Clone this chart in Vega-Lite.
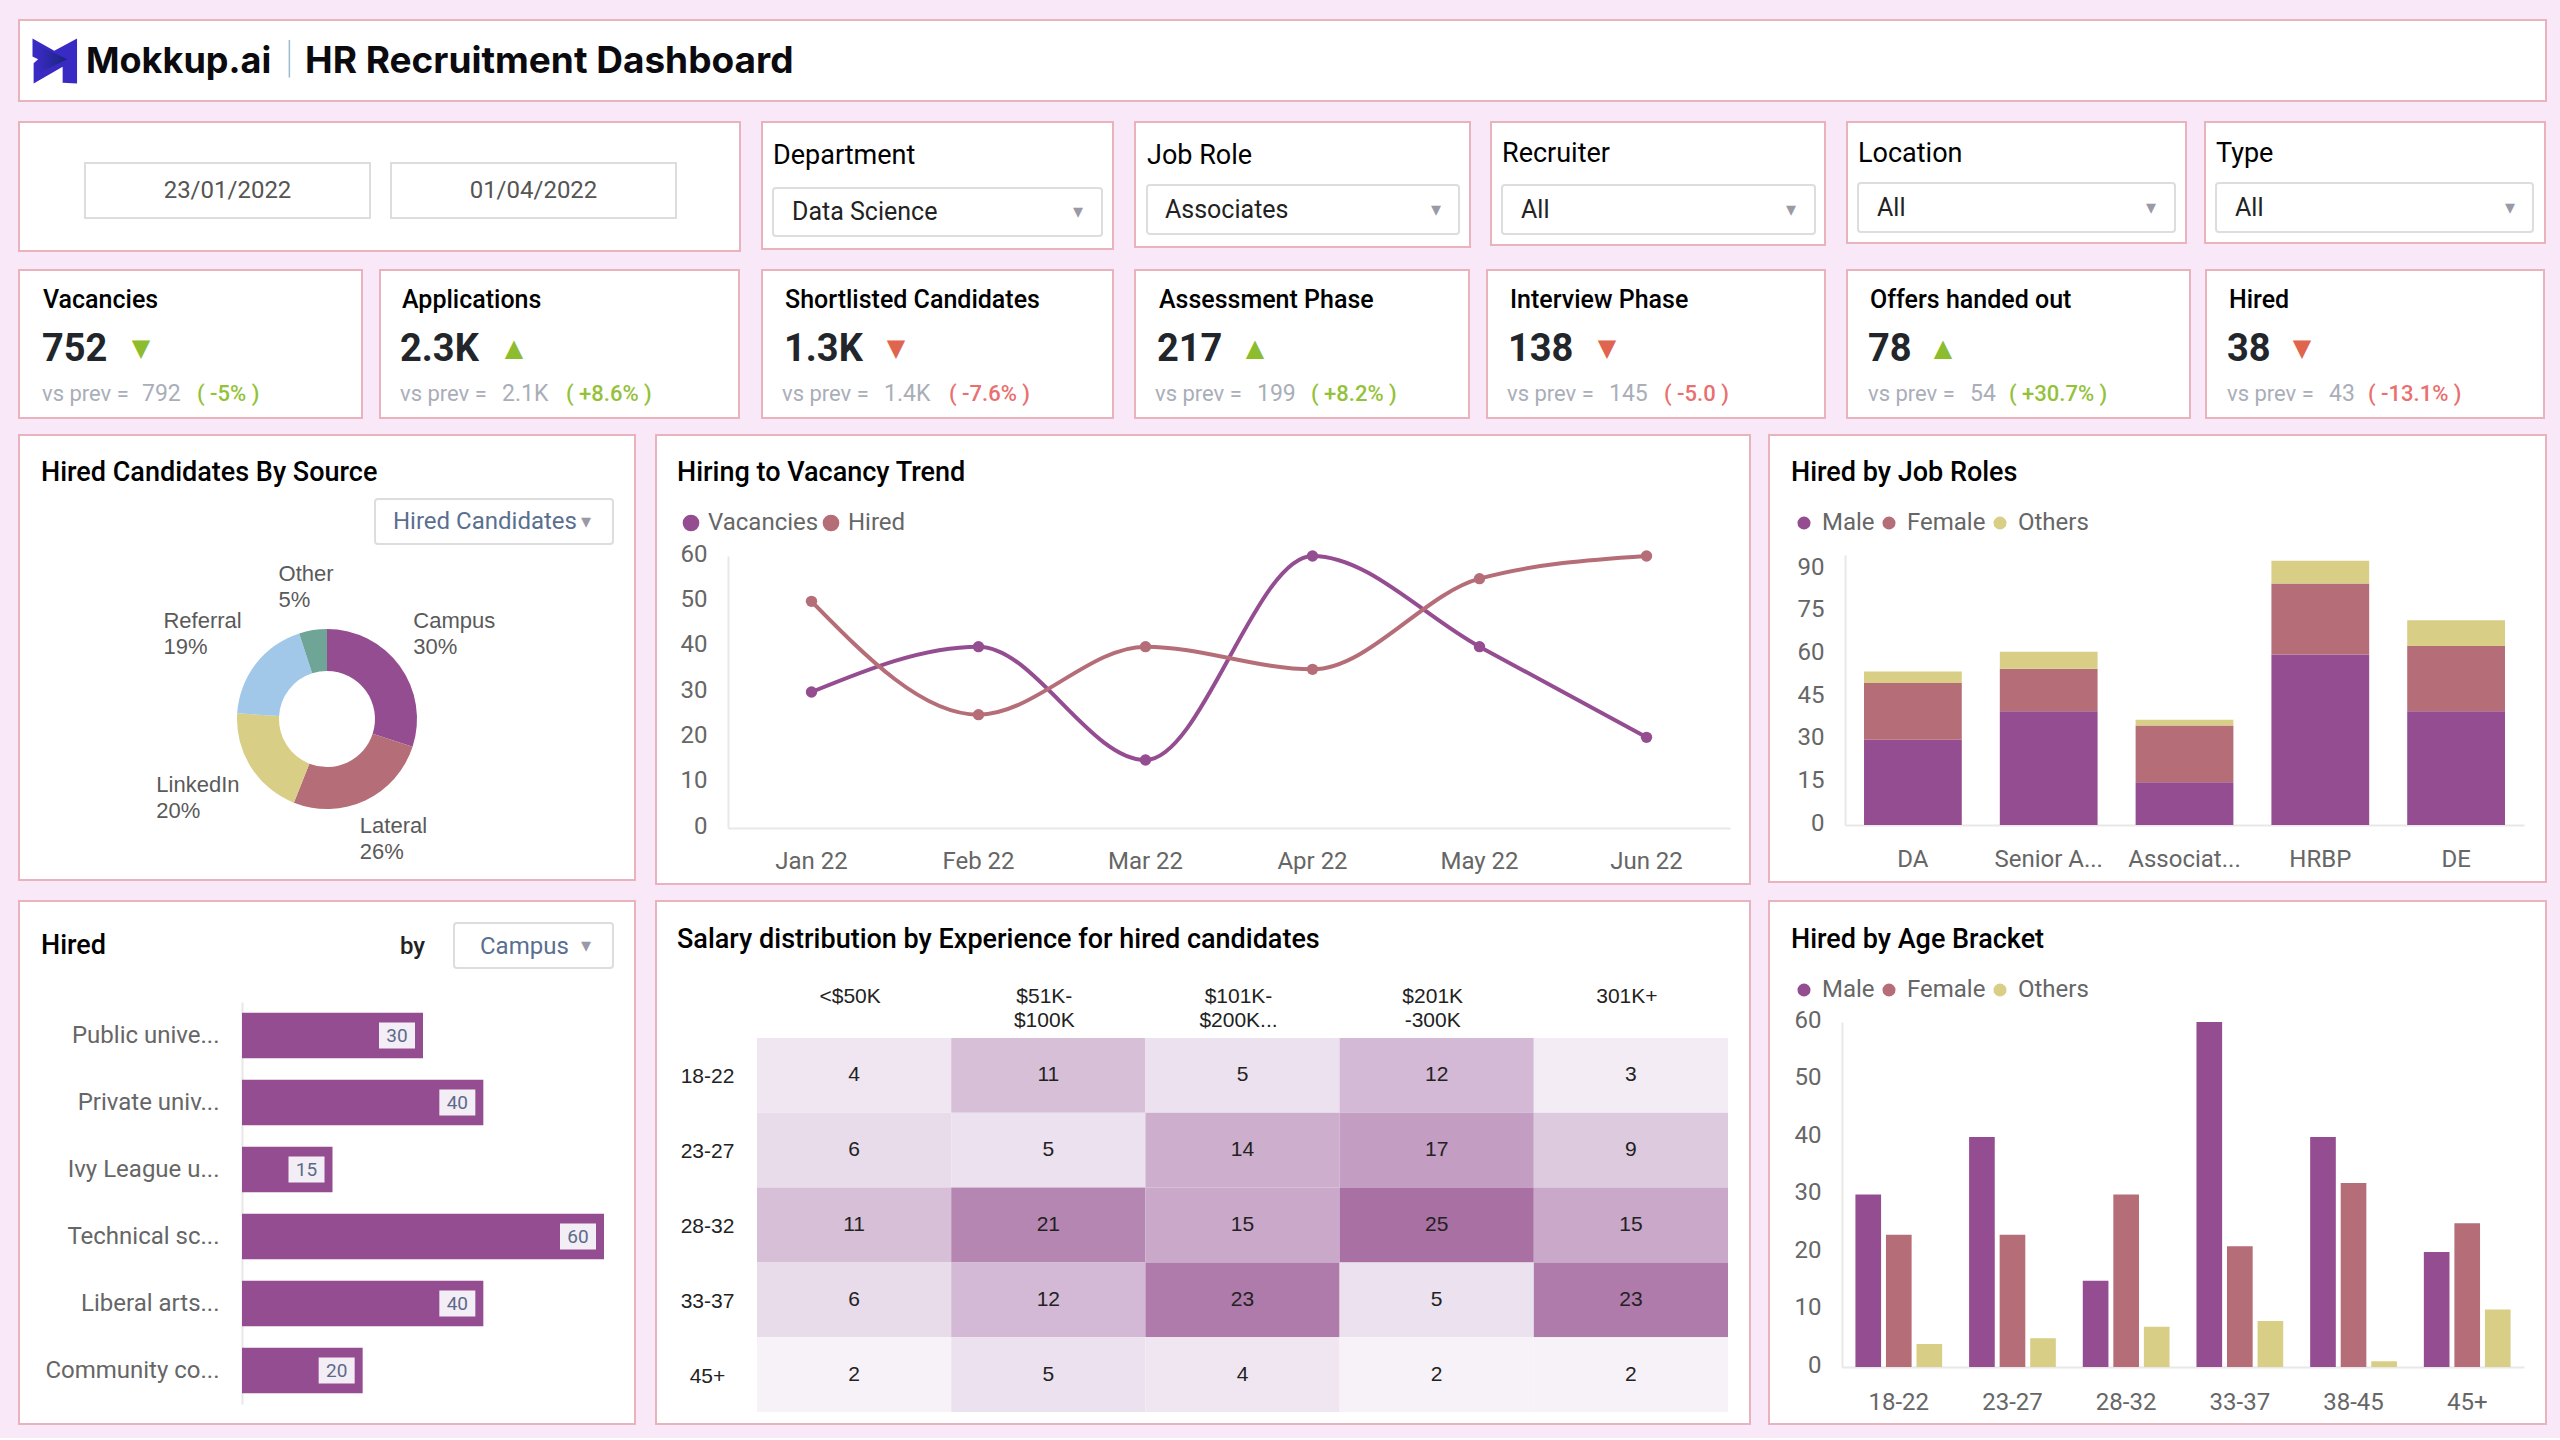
{
"$schema":"https://vega.github.io/schema/vega-lite/v6.json",
"padding":{"left":18,"top":19,"right":14,"bottom":13},
"background":"#f9e9f8",
"config":{
 "font":"Roboto",
 "view":{"fill":"#ffffff","stroke":"#e9b3bd","strokeWidth":2},
 "title":{"anchor":"start","frame":"group","font":"Roboto","fontWeight":500,"fontSize":27,"color":"#000000","baseline":"middle"},
 "axis":{"domainColor":"#e8e8e8","domainWidth":2,"ticks":false,"grid":false,"labelColor":"#666666","labelFont":"Roboto","labelFontSize":24,"title":null},
 "legend":{"orient":"none","direction":"horizontal","title":null,"symbolType":"circle","labelFont":"Roboto","labelFontSize":24,"labelColor":"#666666","labelOffset":6,"columnPadding":2,"padding":0}
},
"spacing":19,
"resolve":{"scale":{"color":"independent"}},
"vconcat":[
 {"width":2527,"height":81,
  "data":{"values":[{"brand":"Mokkup.ai","page":"HR Recruitment Dashboard"}]},
  "resolve":{"scale":{"x":"independent","y":"independent"}},
  "layer":[
   {"encoding":{"x":{"field":"brand","type":"nominal","axis":null,"bandPosition":0,"scale":{"type":"band","padding":0}},"y":{"field":"brand","type":"nominal","axis":null,"bandPosition":0,"scale":{"type":"band","padding":0}}},
    "layer":[
     {"mark":{"type":"text","align":"left","baseline":"middle","dx":67,"dy":42,"font":"Inter","fontWeight":700,"fontSize":36,"color":"#0b0b0f"},"encoding":{"text":{"field":"brand"}}},
     {"mark":{"type":"text","align":"left","baseline":"middle","dx":286,"dy":42,"font":"Inter","fontWeight":700,"fontSize":37,"color":"#0b0b0f"},"encoding":{"text":{"field":"page"}}},
     {"mark":{"type":"text","align":"center","baseline":"middle","dx":270,"dy":39,"font":"Roboto","fontWeight":100,"fontSize":44,"color":"#7fb2c9"},"encoding":{"text":{"value":"|"}}}
    ]},
   {"encoding":{"x":{"field":"brand","type":"nominal","axis":null,"scale":{"type":"band","range":[26,46],"padding":0}},"y":{"field":"brand","type":"nominal","axis":null,"scale":{"type":"band","range":[31,51],"padding":0}}},
    "layer":[
     {"mark":{"type":"point","shape":"M-1,-1 L-0.03,-0.46 L0.98,-1 L0.98,1 L0.34,0.97 L0.34,0.26 L-0.95,1 L-0.95,0.1 L-0.75,-0.08 L-1,-0.2 Z","size":2025,"filled":true,"fill":"#3a2ac4","opacity":1}},
     {"mark":{"type":"point","shape":"M-0.8,-0.72 L0.55,-0.08 L-0.7,0.52 Z","size":2025,"filled":true,"opacity":1,"fill":{"gradient":"linear","x1":0,"y1":0,"x2":1,"y2":0,"stops":[{"offset":0,"color":"#3a2ac4"},{"offset":1,"color":"#17257a"}]}}}
    ]}
  ]
 },
 {"spacing":17,"resolve":{"scale":{"color":"independent"}},"vconcat":[
  {"spacing":20,"hconcat":[
   {"width":721,"height":129,
    "data":{"values":[{"date":"23/01/2022","card":"Period"},{"date":"01/04/2022","card":"Period"}]},
    "encoding":{"x":{"field":"date","type":"nominal","axis":null,"scale":{"type":"band","domain":["23/01/2022","01/04/2022"],"range":[66,657],"paddingInner":0.0686,"paddingOuter":0}},"y":{"field":"card","type":"nominal","axis":null,"scale":{"type":"band","range":[41,96],"padding":0}}},
    "layer":[
     {"mark":{"type":"rect","fill":"#ffffff","stroke":"#dddddd","strokeWidth":2}},
     {"mark":{"type":"text","font":"Roboto","fontSize":24,"color":"#555555"},"encoding":{"text":{"field":"date"}}}
    ]},
   {"spacing":20,"hconcat":[
    {"width":351,"height":127,
     "title":{"text":"Department","offset":-48,"dx":11,"fontSize":27,"fontWeight":400},
     "data":{"values":[{"filter":"Department","choice":"Data Science"}]},
     "encoding":{"x":{"field":"choice","type":"nominal","axis":null,"bandPosition":0,"scale":{"type":"band","range":[11,340],"padding":0}},"y":{"field":"filter","type":"nominal","axis":null,"scale":{"type":"band","range":[66,114],"padding":0}}},
     "layer":[
      {"mark":{"type":"rect","fill":"#ffffff","stroke":"#dddddd","strokeWidth":2,"cornerRadius":3},"encoding":{"x":{"field":"choice","type":"nominal","axis":null}}},
      {"mark":{"type":"text","align":"left","dx":19,"font":"Roboto","fontSize":25,"color":"#222222"},"encoding":{"text":{"field":"choice"}}},
      {"mark":{"type":"text","align":"center","dx":305,"font":"DejaVu Sans","fontSize":20,"color":"#9a9aa6"},"encoding":{"text":{"value":"▾"}}}
     ]},
    {"spacing":19,"hconcat":[
     {"width":335,"height":125,
      "title":{"text":"Job Role","offset":-48,"dx":12,"fontSize":27,"fontWeight":400},
      "data":{"values":[{"filter":"Job Role","choice":"Associates"}]},
      "encoding":{"x":{"field":"choice","type":"nominal","axis":null,"bandPosition":0,"scale":{"type":"band","range":[12,324],"padding":0}},"y":{"field":"filter","type":"nominal","axis":null,"scale":{"type":"band","range":[63,112],"padding":0}}},
      "layer":[
       {"mark":{"type":"rect","fill":"#ffffff","stroke":"#dddddd","strokeWidth":2,"cornerRadius":3},"encoding":{"x":{"field":"choice","type":"nominal","axis":null}}},
       {"mark":{"type":"text","align":"left","dx":18,"font":"Roboto","fontSize":25,"color":"#222222"},"encoding":{"text":{"field":"choice"}}},
       {"mark":{"type":"text","align":"center","dx":289,"font":"DejaVu Sans","fontSize":20,"color":"#9a9aa6"},"encoding":{"text":{"value":"▾"}}}
      ]},
     {"spacing":20,"hconcat":[
      {"width":334,"height":123,
       "title":{"text":"Recruiter","offset":-46,"dx":11,"fontSize":27,"fontWeight":400},
       "data":{"values":[{"filter":"Recruiter","choice":"All"}]},
       "encoding":{"x":{"field":"choice","type":"nominal","axis":null,"bandPosition":0,"scale":{"type":"band","range":[11,324],"padding":0}},"y":{"field":"filter","type":"nominal","axis":null,"scale":{"type":"band","range":[63,112],"padding":0}}},
       "layer":[
        {"mark":{"type":"rect","fill":"#ffffff","stroke":"#dddddd","strokeWidth":2,"cornerRadius":3},"encoding":{"x":{"field":"choice","type":"nominal","axis":null}}},
        {"mark":{"type":"text","align":"left","dx":19,"font":"Roboto","fontSize":25,"color":"#222222"},"encoding":{"text":{"field":"choice"}}},
        {"mark":{"type":"text","align":"center","dx":289,"font":"DejaVu Sans","fontSize":20,"color":"#9a9aa6"},"encoding":{"text":{"value":"▾"}}}
       ]},
      {"spacing":17,"hconcat":[
       {"width":339,"height":121,
        "title":{"text":"Location","offset":-46,"dx":11,"fontSize":27,"fontWeight":400},
        "data":{"values":[{"filter":"Location","choice":"All"}]},
        "encoding":{"x":{"field":"choice","type":"nominal","axis":null,"bandPosition":0,"scale":{"type":"band","range":[11,328],"padding":0}},"y":{"field":"filter","type":"nominal","axis":null,"scale":{"type":"band","range":[61,110],"padding":0}}},
        "layer":[
         {"mark":{"type":"rect","fill":"#ffffff","stroke":"#dddddd","strokeWidth":2,"cornerRadius":3},"encoding":{"x":{"field":"choice","type":"nominal","axis":null}}},
         {"mark":{"type":"text","align":"left","dx":19,"font":"Roboto","fontSize":25,"color":"#222222"},"encoding":{"text":{"field":"choice"}}},
         {"mark":{"type":"text","align":"center","dx":293,"font":"DejaVu Sans","fontSize":20,"color":"#9a9aa6"},"encoding":{"text":{"value":"▾"}}}
        ]},
       {"width":340,"height":121,
        "title":{"text":"Type","offset":-46,"dx":11,"fontSize":27,"fontWeight":400},
        "data":{"values":[{"filter":"Type","choice":"All"}]},
        "encoding":{"x":{"field":"choice","type":"nominal","axis":null,"bandPosition":0,"scale":{"type":"band","range":[11,328],"padding":0}},"y":{"field":"filter","type":"nominal","axis":null,"scale":{"type":"band","range":[61,110],"padding":0}}},
        "layer":[
         {"mark":{"type":"rect","fill":"#ffffff","stroke":"#dddddd","strokeWidth":2,"cornerRadius":3},"encoding":{"x":{"field":"choice","type":"nominal","axis":null}}},
         {"mark":{"type":"text","align":"left","dx":19,"font":"Roboto","fontSize":25,"color":"#222222"},"encoding":{"text":{"field":"choice"}}},
         {"mark":{"type":"text","align":"center","dx":294,"font":"DejaVu Sans","fontSize":20,"color":"#9a9aa6"},"encoding":{"text":{"value":"▾"}}}
        ]}
      ]}
     ]}
    ]}
   ]}
  ]},
  {"spacing":15,"resolve":{"scale":{"color":"independent"}},"vconcat":[
   {"spacing":16,"hconcat":[
    {"width":343,"height":148,
     "title":{"text":"Vacancies","offset":-43,"dx":24,"fontSize":25},
     "data":{"values":[{"kpi":"Vacancies","value":"752","arrow":"▼","tone":"good","prev":"792","delta":"( -5% )"}]},
     "encoding":{"x":{"field":"kpi","type":"nominal","bandPosition":0,"axis":null,"scale":{"type":"band","padding":0}},"y":{"field":"kpi","type":"nominal","bandPosition":0,"axis":null,"scale":{"type":"band","padding":0}}},
     "layer":[
      {"mark":{"type":"text","align":"left","baseline":"middle","dx":23,"dy":80,"font":"Roboto","fontSize":38,"fontWeight":700,"color":"#22262b"},"encoding":{"text":{"field":"value"}}},
      {"mark":{"type":"text","align":"center","baseline":"middle","dx":122,"dy":79,"font":"DejaVu Sans","fontSize":24},"encoding":{"text":{"field":"arrow"},"color":{"condition":{"test":"datum.tone==='good'","value":"#8dbc2e"},"value":"#e0654f"}}},
      {"mark":{"type":"text","align":"left","baseline":"middle","dx":23,"dy":124,"font":"Roboto","fontSize":22,"color":"#a9aeb8"},"encoding":{"text":{"value":"vs prev ="}}},
      {"mark":{"type":"text","align":"left","baseline":"middle","dx":123,"dy":124,"font":"Roboto","fontSize":23,"color":"#a9aeb8"},"encoding":{"text":{"field":"prev"}}},
      {"mark":{"type":"text","align":"left","baseline":"middle","dx":178,"dy":124,"font":"Roboto","fontSize":22,"fontWeight":500},"encoding":{"text":{"field":"delta"},"color":{"condition":{"test":"datum.tone==='good'","value":"#93c23a"},"value":"#e8706f"}}}
     ]},
    {"spacing":21,"hconcat":[
     {"width":359,"height":148,
      "title":{"text":"Applications","offset":-43,"dx":22,"fontSize":25},
      "data":{"values":[{"kpi":"Applications","value":"2.3K","arrow":"▲","tone":"good","prev":"2.1K","delta":"( +8.6% )"}]},
      "encoding":{"x":{"field":"kpi","type":"nominal","bandPosition":0,"axis":null,"scale":{"type":"band","padding":0}},"y":{"field":"kpi","type":"nominal","bandPosition":0,"axis":null,"scale":{"type":"band","padding":0}}},
      "layer":[
       {"mark":{"type":"text","align":"left","baseline":"middle","dx":20,"dy":80,"font":"Roboto","fontSize":38,"fontWeight":700,"color":"#22262b"},"encoding":{"text":{"field":"value"}}},
       {"mark":{"type":"text","align":"center","baseline":"middle","dx":134,"dy":79,"font":"DejaVu Sans","fontSize":24},"encoding":{"text":{"field":"arrow"},"color":{"condition":{"test":"datum.tone==='good'","value":"#8dbc2e"},"value":"#e0654f"}}},
       {"mark":{"type":"text","align":"left","baseline":"middle","dx":20,"dy":124,"font":"Roboto","fontSize":22,"color":"#a9aeb8"},"encoding":{"text":{"value":"vs prev ="}}},
       {"mark":{"type":"text","align":"left","baseline":"middle","dx":122,"dy":124,"font":"Roboto","fontSize":23,"color":"#a9aeb8"},"encoding":{"text":{"field":"prev"}}},
       {"mark":{"type":"text","align":"left","baseline":"middle","dx":186,"dy":124,"font":"Roboto","fontSize":22,"fontWeight":500},"encoding":{"text":{"field":"delta"},"color":{"condition":{"test":"datum.tone==='good'","value":"#93c23a"},"value":"#e8706f"}}}
      ]},
     {"spacing":20,"hconcat":[
      {"width":351,"height":148,
       "title":{"text":"Shortlisted Candidates","offset":-43,"dx":23,"fontSize":25},
       "data":{"values":[{"kpi":"Shortlisted Candidates","value":"1.3K","arrow":"▼","tone":"bad","prev":"1.4K","delta":"( -7.6% )"}]},
       "encoding":{"x":{"field":"kpi","type":"nominal","bandPosition":0,"axis":null,"scale":{"type":"band","padding":0}},"y":{"field":"kpi","type":"nominal","bandPosition":0,"axis":null,"scale":{"type":"band","padding":0}}},
       "layer":[
        {"mark":{"type":"text","align":"left","baseline":"middle","dx":22,"dy":80,"font":"Roboto","fontSize":38,"fontWeight":700,"color":"#22262b"},"encoding":{"text":{"field":"value"}}},
        {"mark":{"type":"text","align":"center","baseline":"middle","dx":134,"dy":79,"font":"DejaVu Sans","fontSize":24},"encoding":{"text":{"field":"arrow"},"color":{"condition":{"test":"datum.tone==='good'","value":"#8dbc2e"},"value":"#e0654f"}}},
        {"mark":{"type":"text","align":"left","baseline":"middle","dx":20,"dy":124,"font":"Roboto","fontSize":22,"color":"#a9aeb8"},"encoding":{"text":{"value":"vs prev ="}}},
        {"mark":{"type":"text","align":"left","baseline":"middle","dx":122,"dy":124,"font":"Roboto","fontSize":23,"color":"#a9aeb8"},"encoding":{"text":{"field":"prev"}}},
        {"mark":{"type":"text","align":"left","baseline":"middle","dx":187,"dy":124,"font":"Roboto","fontSize":22,"fontWeight":500},"encoding":{"text":{"field":"delta"},"color":{"condition":{"test":"datum.tone==='good'","value":"#93c23a"},"value":"#e8706f"}}}
       ]},
      {"spacing":16,"hconcat":[
       {"width":334,"height":148,
        "title":{"text":"Assessment Phase","offset":-43,"dx":24,"fontSize":25},
        "data":{"values":[{"kpi":"Assessment Phase","value":"217","arrow":"▲","tone":"good","prev":"199","delta":"( +8.2% )"}]},
        "encoding":{"x":{"field":"kpi","type":"nominal","bandPosition":0,"axis":null,"scale":{"type":"band","padding":0}},"y":{"field":"kpi","type":"nominal","bandPosition":0,"axis":null,"scale":{"type":"band","padding":0}}},
        "layer":[
         {"mark":{"type":"text","align":"left","baseline":"middle","dx":22,"dy":80,"font":"Roboto","fontSize":38,"fontWeight":700,"color":"#22262b"},"encoding":{"text":{"field":"value"}}},
         {"mark":{"type":"text","align":"center","baseline":"middle","dx":120,"dy":79,"font":"DejaVu Sans","fontSize":24},"encoding":{"text":{"field":"arrow"},"color":{"condition":{"test":"datum.tone==='good'","value":"#8dbc2e"},"value":"#e0654f"}}},
         {"mark":{"type":"text","align":"left","baseline":"middle","dx":20,"dy":124,"font":"Roboto","fontSize":22,"color":"#a9aeb8"},"encoding":{"text":{"value":"vs prev ="}}},
         {"mark":{"type":"text","align":"left","baseline":"middle","dx":122,"dy":124,"font":"Roboto","fontSize":23,"color":"#a9aeb8"},"encoding":{"text":{"field":"prev"}}},
         {"mark":{"type":"text","align":"left","baseline":"middle","dx":176,"dy":124,"font":"Roboto","fontSize":22,"fontWeight":500},"encoding":{"text":{"field":"delta"},"color":{"condition":{"test":"datum.tone==='good'","value":"#93c23a"},"value":"#e8706f"}}}
        ]},
       {"spacing":20,"hconcat":[
        {"width":338,"height":148,
         "title":{"text":"Interview Phase","offset":-43,"dx":23,"fontSize":25},
         "data":{"values":[{"kpi":"Interview Phase","value":"138","arrow":"▼","tone":"bad","prev":"145","delta":"( -5.0 )"}]},
         "encoding":{"x":{"field":"kpi","type":"nominal","bandPosition":0,"axis":null,"scale":{"type":"band","padding":0}},"y":{"field":"kpi","type":"nominal","bandPosition":0,"axis":null,"scale":{"type":"band","padding":0}}},
         "layer":[
          {"mark":{"type":"text","align":"left","baseline":"middle","dx":21,"dy":80,"font":"Roboto","fontSize":38,"fontWeight":700,"color":"#22262b"},"encoding":{"text":{"field":"value"}}},
          {"mark":{"type":"text","align":"center","baseline":"middle","dx":120,"dy":79,"font":"DejaVu Sans","fontSize":24},"encoding":{"text":{"field":"arrow"},"color":{"condition":{"test":"datum.tone==='good'","value":"#8dbc2e"},"value":"#e0654f"}}},
          {"mark":{"type":"text","align":"left","baseline":"middle","dx":20,"dy":124,"font":"Roboto","fontSize":22,"color":"#a9aeb8"},"encoding":{"text":{"value":"vs prev ="}}},
          {"mark":{"type":"text","align":"left","baseline":"middle","dx":122,"dy":124,"font":"Roboto","fontSize":23,"color":"#a9aeb8"},"encoding":{"text":{"field":"prev"}}},
          {"mark":{"type":"text","align":"left","baseline":"middle","dx":177,"dy":124,"font":"Roboto","fontSize":22,"fontWeight":500},"encoding":{"text":{"field":"delta"},"color":{"condition":{"test":"datum.tone==='good'","value":"#93c23a"},"value":"#e8706f"}}}
         ]},
        {"spacing":14,"hconcat":[
         {"width":343,"height":148,
          "title":{"text":"Offers handed out","offset":-43,"dx":23,"fontSize":25},
          "data":{"values":[{"kpi":"Offers handed out","value":"78","arrow":"▲","tone":"good","prev":"54","delta":"( +30.7% )"}]},
          "encoding":{"x":{"field":"kpi","type":"nominal","bandPosition":0,"axis":null,"scale":{"type":"band","padding":0}},"y":{"field":"kpi","type":"nominal","bandPosition":0,"axis":null,"scale":{"type":"band","padding":0}}},
          "layer":[
           {"mark":{"type":"text","align":"left","baseline":"middle","dx":21,"dy":80,"font":"Roboto","fontSize":38,"fontWeight":700,"color":"#22262b"},"encoding":{"text":{"field":"value"}}},
           {"mark":{"type":"text","align":"center","baseline":"middle","dx":96,"dy":79,"font":"DejaVu Sans","fontSize":24},"encoding":{"text":{"field":"arrow"},"color":{"condition":{"test":"datum.tone==='good'","value":"#8dbc2e"},"value":"#e0654f"}}},
           {"mark":{"type":"text","align":"left","baseline":"middle","dx":21,"dy":124,"font":"Roboto","fontSize":22,"color":"#a9aeb8"},"encoding":{"text":{"value":"vs prev ="}}},
           {"mark":{"type":"text","align":"left","baseline":"middle","dx":123,"dy":124,"font":"Roboto","fontSize":23,"color":"#a9aeb8"},"encoding":{"text":{"field":"prev"}}},
           {"mark":{"type":"text","align":"left","baseline":"middle","dx":162,"dy":124,"font":"Roboto","fontSize":22,"fontWeight":500},"encoding":{"text":{"field":"delta"},"color":{"condition":{"test":"datum.tone==='good'","value":"#93c23a"},"value":"#e8706f"}}}
          ]},
         {"width":338,"height":148,
          "title":{"text":"Hired","offset":-43,"dx":23,"fontSize":25},
          "data":{"values":[{"kpi":"Hired","value":"38","arrow":"▼","tone":"bad","prev":"43","delta":"( -13.1% )"}]},
          "encoding":{"x":{"field":"kpi","type":"nominal","bandPosition":0,"axis":null,"scale":{"type":"band","padding":0}},"y":{"field":"kpi","type":"nominal","bandPosition":0,"axis":null,"scale":{"type":"band","padding":0}}},
          "layer":[
           {"mark":{"type":"text","align":"left","baseline":"middle","dx":21,"dy":80,"font":"Roboto","fontSize":38,"fontWeight":700,"color":"#22262b"},"encoding":{"text":{"field":"value"}}},
           {"mark":{"type":"text","align":"center","baseline":"middle","dx":96,"dy":79,"font":"DejaVu Sans","fontSize":24},"encoding":{"text":{"field":"arrow"},"color":{"condition":{"test":"datum.tone==='good'","value":"#8dbc2e"},"value":"#e0654f"}}},
           {"mark":{"type":"text","align":"left","baseline":"middle","dx":21,"dy":124,"font":"Roboto","fontSize":22,"color":"#a9aeb8"},"encoding":{"text":{"value":"vs prev ="}}},
           {"mark":{"type":"text","align":"left","baseline":"middle","dx":123,"dy":124,"font":"Roboto","fontSize":23,"color":"#a9aeb8"},"encoding":{"text":{"field":"prev"}}},
           {"mark":{"type":"text","align":"left","baseline":"middle","dx":162,"dy":124,"font":"Roboto","fontSize":22,"fontWeight":500},"encoding":{"text":{"field":"delta"},"color":{"condition":{"test":"datum.tone==='good'","value":"#93c23a"},"value":"#e8706f"}}}
          ]}
        ]}
       ]}
      ]}
     ]}
    ]}
   ]},
   {"spacing":15,"resolve":{"scale":{"color":"independent"}},"vconcat":[
    {"spacing":19,"resolve":{"scale":{"color":"independent"}},"hconcat":[
     {"width":616,"height":445,
      "title":{"text":"Hired Candidates By Source","offset":-52,"dx":22},
      "resolve":{"scale":{"x":"independent","y":"independent"}},
      "layer":[
       {"data":{"values":[
         {"metric":"Hired Candidates","source":"Campus","share":30,"label":"Campus\n30%"},
         {"metric":"Hired Candidates","source":"Lateral","share":26,"label":"Lateral\n26%"},
         {"metric":"Hired Candidates","source":"LinkedIn","share":20,"label":"LinkedIn\n20%"},
         {"metric":"Hired Candidates","source":"Referral","share":19,"label":"Referral\n19%"},
         {"metric":"Hired Candidates","source":"Other","share":5,"label":"Other\n5%"}]},
        "encoding":{
         "x":{"field":"metric","type":"nominal","axis":null,"scale":{"type":"band","range":[298,318],"padding":0}},
         "y":{"field":"metric","type":"nominal","axis":null,"scale":{"type":"band","range":[274,294],"padding":0}},
         "theta":{"field":"share","type":"quantitative","stack":true},
         "order":{"field":"share","sort":"descending"}},
        "layer":[
         {"mark":{"type":"arc","innerRadius":48,"outerRadius":90},"encoding":{"color":{"field":"source","type":"nominal","legend":null,"scale":{"domain":["Campus","Lateral","LinkedIn","Referral","Other"],"range":["#954d91","#b56d77","#d9ce86","#a1c8e8","#6fa597"]}}}},
         {"mark":{"type":"text","radius":150,"dx":-35,"dy":-10,"align":"left","baseline":"middle","lineBreak":"\n","lineHeight":26,"font":"Liberation Sans","fontSize":22,"color":"#5a5a5a"},"encoding":{"text":{"condition":{"test":"datum.source==='Campus'","field":"label"},"value":""}}},
         {"mark":{"type":"text","radius":150,"dx":-31,"dy":-29,"align":"left","baseline":"middle","lineBreak":"\n","lineHeight":26,"font":"Liberation Sans","fontSize":22,"color":"#5a5a5a"},"encoding":{"text":{"condition":{"test":"datum.source==='Lateral'","field":"label"},"value":""}}},
         {"mark":{"type":"text","radius":150,"dx":-44,"dy":-14,"align":"left","baseline":"middle","lineBreak":"\n","lineHeight":26,"font":"Liberation Sans","fontSize":22,"color":"#5a5a5a"},"encoding":{"text":{"condition":{"test":"datum.source==='LinkedIn'","field":"label"},"value":""}}},
         {"mark":{"type":"text","radius":150,"dx":-45,"dy":-6,"align":"left","baseline":"middle","lineBreak":"\n","lineHeight":26,"font":"Liberation Sans","fontSize":22,"color":"#5a5a5a"},"encoding":{"text":{"condition":{"test":"datum.source==='Referral'","field":"label"},"value":""}}},
         {"mark":{"type":"text","radius":150,"dx":-25,"dy":3,"align":"left","baseline":"middle","lineBreak":"\n","lineHeight":26,"font":"Liberation Sans","fontSize":22,"color":"#5a5a5a"},"encoding":{"text":{"condition":{"test":"datum.source==='Other'","field":"label"},"value":""}}}
        ]},
       {"data":{"values":[{"picker":"Hired Candidates"}]},
        "encoding":{
         "x":{"field":"picker","type":"nominal","axis":null,"bandPosition":0,"scale":{"type":"band","range":[356,594],"padding":0}},
         "y":{"field":"picker","type":"nominal","axis":null,"scale":{"type":"band","range":[64,109],"padding":0}}},
        "layer":[
         {"mark":{"type":"rect","fill":"#ffffff","stroke":"#dddddd","strokeWidth":2,"cornerRadius":3},"encoding":{"x":{"field":"picker","type":"nominal","axis":null}}},
         {"mark":{"type":"text","align":"left","dx":18,"font":"Roboto","fontSize":24,"color":"#5a6f90"},"encoding":{"text":{"field":"picker"}}},
         {"mark":{"type":"text","align":"center","dx":211,"font":"DejaVu Sans","fontSize":20,"color":"#9a9aa6"},"encoding":{"text":{"value":"▾"}}}
        ]}
      ]},
     {"spacing":17,"resolve":{"scale":{"color":"independent"}},"hconcat":[
      {"width":1094,"height":449,
       "title":{"text":"Hiring to Vacancy Trend","offset":-52,"dx":21},
       "data":{"values":[
         {"month":"Jan 22","series":"Vacancies","count":30},{"month":"Feb 22","series":"Vacancies","count":40},{"month":"Mar 22","series":"Vacancies","count":15},{"month":"Apr 22","series":"Vacancies","count":60},{"month":"May 22","series":"Vacancies","count":40},{"month":"Jun 22","series":"Vacancies","count":20},
         {"month":"Jan 22","series":"Hired","count":50},{"month":"Feb 22","series":"Hired","count":25},{"month":"Mar 22","series":"Hired","count":40},{"month":"Apr 22","series":"Hired","count":35},{"month":"May 22","series":"Hired","count":55},{"month":"Jun 22","series":"Hired","count":60}]},
       "encoding":{
        "x":{"field":"month","type":"nominal","axis":{"offset":-56,"labelAngle":0,"labelPadding":21},"scale":{"type":"band","domain":["Jan 22","Feb 22","Mar 22","Apr 22","May 22","Jun 22"],"range":[72,1074],"padding":0}},
        "y":{"field":"count","type":"quantitative","axis":{"offset":-72,"values":[0,10,20,30,40,50,60],"labelPadding":21,"labelOffset":-2},"scale":{"domain":[0,60],"range":[393,121],"nice":false}},
        "color":{"field":"series","type":"nominal","scale":{"domain":["Vacancies","Hired"],"range":["#954d91","#b56d77"]},"legend":{"legendX":23,"legendY":76,"symbolSize":230,"labelOffset":5,"columnPadding":0}}},
       "layer":[
        {"mark":{"type":"line","interpolate":"monotone","strokeWidth":4}},
        {"mark":{"type":"point","filled":true,"size":130,"opacity":1}}
       ]},
      {"width":777,"height":447,
       "title":{"text":"Hired by Job Roles","offset":-52,"dx":22},
       "data":{"values":[
         {"role":"DA","gender":"Male","seq":1,"count":30},{"role":"DA","gender":"Female","seq":2,"count":20},{"role":"DA","gender":"Others","seq":3,"count":4},
         {"role":"Senior A...","gender":"Male","seq":1,"count":40},{"role":"Senior A...","gender":"Female","seq":2,"count":15},{"role":"Senior A...","gender":"Others","seq":3,"count":6},
         {"role":"Associat...","gender":"Male","seq":1,"count":15},{"role":"Associat...","gender":"Female","seq":2,"count":20},{"role":"Associat...","gender":"Others","seq":3,"count":2},
         {"role":"HRBP","gender":"Male","seq":1,"count":60},{"role":"HRBP","gender":"Female","seq":2,"count":25},{"role":"HRBP","gender":"Others","seq":3,"count":8},
         {"role":"DE","gender":"Male","seq":1,"count":40},{"role":"DE","gender":"Female","seq":2,"count":23},{"role":"DE","gender":"Others","seq":3,"count":9}]},
       "mark":{"type":"bar"},
       "encoding":{
        "x":{"field":"role","type":"nominal","axis":{"offset":-57,"labelAngle":0,"labelPadding":22},"scale":{"type":"band","domain":["DA","Senior A...","Associat...","HRBP","DE"],"range":[76,755],"paddingInner":0.28,"paddingOuter":0.14}},
        "y":{"field":"count","type":"quantitative","stack":true,"axis":{"offset":-76,"values":[0,15,30,45,60,75,90],"labelPadding":21,"labelOffset":-2},"scale":{"domain":[0,95],"range":[390,120],"nice":false}},
        "order":{"field":"seq"},
        "color":{"field":"gender","type":"nominal","scale":{"domain":["Male","Female","Others"],"range":["#954d91","#b56d77","#d9ce86"]},"legend":{"legendX":23,"legendY":76,"symbolSize":170}}}
      }
     ]}
    ]},
    {"spacing":19,"resolve":{"scale":{"color":"independent"}},"hconcat":[
     {"width":616,"height":523,
      "title":{"text":"Hired","offset":-59,"dx":22},
      "resolve":{"scale":{"x":"independent","y":"independent"}},
      "layer":[
       {"data":{"values":[
         {"school":"Public unive...","hires":30},{"school":"Private univ...","hires":40},{"school":"Ivy League u...","hires":15},{"school":"Technical sc...","hires":60},{"school":"Liberal arts...","hires":40},{"school":"Community co...","hires":20}]},
        "encoding":{
         "y":{"field":"school","type":"nominal","axis":{"offset":-223,"labelPadding":23},"scale":{"type":"band","domain":["Public unive...","Private univ...","Ivy League u...","Technical sc...","Liberal arts...","Community co..."],"range":[101,503],"paddingInner":0.32,"paddingOuter":0.16}},
         "x":{"field":"hires","type":"quantitative","axis":null,"scale":{"domain":[0,60],"range":[223,585],"nice":false}}},
        "layer":[
         {"mark":{"type":"bar","color":"#954d91"}},
         {"mark":{"type":"bar","height":26,"xOffset":-44,"x2Offset":-8,"color":"#f3eef5"},"encoding":{"x2":{"field":"hires"}}},
         {"mark":{"type":"text","align":"center","dx":-26,"font":"Roboto","fontSize":19,"color":"#5c6a8a"},"encoding":{"text":{"field":"hires"}}}
        ]},
       {"data":{"values":[{"picker":"Campus"}]},
        "encoding":{
         "x":{"field":"picker","type":"nominal","axis":null,"bandPosition":0,"scale":{"type":"band","range":[435,594],"padding":0}},
         "y":{"field":"picker","type":"nominal","axis":null,"scale":{"type":"band","range":[22,67],"padding":0}}},
        "layer":[
         {"mark":{"type":"rect","fill":"#ffffff","stroke":"#dddddd","strokeWidth":2,"cornerRadius":3},"encoding":{"x":{"field":"picker","type":"nominal","axis":null}}},
         {"mark":{"type":"text","align":"left","dx":26,"dy":1,"font":"Roboto","fontSize":24,"color":"#5a6f90"},"encoding":{"text":{"field":"picker"}}},
         {"mark":{"type":"text","align":"center","dx":132,"font":"DejaVu Sans","fontSize":20,"color":"#9a9aa6"},"encoding":{"text":{"value":"▾"}}},
         {"mark":{"type":"text","align":"left","dx":-54,"dy":1,"font":"Roboto","fontSize":24,"fontWeight":500,"color":"#222222"},"encoding":{"text":{"value":"by"}}}
        ]}
      ]},
     {"spacing":17,"resolve":{"scale":{"color":"independent"}},"hconcat":[
      {"width":1094,"height":523,
       "title":{"text":"Salary distribution by Experience for hired candidates","offset":-53,"dx":21},
       "data":{"values":[
         {"age":"18-22","salary":"<$50K|","count":4},{"age":"18-22","salary":"$51K-|$100K","count":11},{"age":"18-22","salary":"$101K-|$200K...","count":5},{"age":"18-22","salary":"$201K|-300K","count":12},{"age":"18-22","salary":"301K+|","count":3},
         {"age":"23-27","salary":"<$50K|","count":6},{"age":"23-27","salary":"$51K-|$100K","count":5},{"age":"23-27","salary":"$101K-|$200K...","count":14},{"age":"23-27","salary":"$201K|-300K","count":17},{"age":"23-27","salary":"301K+|","count":9},
         {"age":"28-32","salary":"<$50K|","count":11},{"age":"28-32","salary":"$51K-|$100K","count":21},{"age":"28-32","salary":"$101K-|$200K...","count":15},{"age":"28-32","salary":"$201K|-300K","count":25},{"age":"28-32","salary":"301K+|","count":15},
         {"age":"33-37","salary":"<$50K|","count":6},{"age":"33-37","salary":"$51K-|$100K","count":12},{"age":"33-37","salary":"$101K-|$200K...","count":23},{"age":"33-37","salary":"$201K|-300K","count":5},{"age":"33-37","salary":"301K+|","count":23},
         {"age":"45+","salary":"<$50K|","count":2},{"age":"45+","salary":"$51K-|$100K","count":5},{"age":"45+","salary":"$101K-|$200K...","count":4},{"age":"45+","salary":"$201K|-300K","count":2},{"age":"45+","salary":"301K+|","count":2}]},
       "encoding":{
        "x":{"field":"salary","type":"nominal","axis":{"orient":"top","offset":-137,"domain":false,"labelAngle":0,"labelPadding":32,"labelOffset":-4,"labelFont":"Liberation Sans","labelFontSize":21,"labelColor":"#222222","labelLineHeight":24,"labelExpr":"split(datum.label,'|')"},"scale":{"type":"band","domain":["<$50K|","$51K-|$100K","$101K-|$200K...","$201K|-300K","301K+|"],"range":[101,1072],"padding":0}},
        "y":{"field":"age","type":"nominal","axis":{"offset":-101,"domain":false,"labelAlign":"center","labelPadding":50,"labelOffset":2,"labelFont":"Liberation Sans","labelFontSize":21,"labelColor":"#222222"},"scale":{"type":"band","domain":["18-22","23-27","28-32","33-37","45+"],"range":[137,511],"padding":0}}},
       "layer":[
        {"mark":{"type":"rect"},"encoding":{"color":{"field":"count","type":"quantitative","legend":null,"scale":{"domain":[2,25],"range":["#f7f2f8","#a970a3"]}}}},
        {"mark":{"type":"text","font":"Liberation Sans","fontSize":21,"color":"#222222"},"encoding":{"text":{"field":"count"}}}
       ]},
      {"width":777,"height":523,
       "title":{"text":"Hired by Age Bracket","offset":-53,"dx":22},
       "data":{"values":[
         {"age":"18-22","gender":"Male","count":30},{"age":"18-22","gender":"Female","count":23},{"age":"18-22","gender":"Others","count":4},
         {"age":"23-27","gender":"Male","count":40},{"age":"23-27","gender":"Female","count":23},{"age":"23-27","gender":"Others","count":5},
         {"age":"28-32","gender":"Male","count":15},{"age":"28-32","gender":"Female","count":30},{"age":"28-32","gender":"Others","count":7},
         {"age":"33-37","gender":"Male","count":60},{"age":"33-37","gender":"Female","count":21},{"age":"33-37","gender":"Others","count":8},
         {"age":"38-45","gender":"Male","count":40},{"age":"38-45","gender":"Female","count":32},{"age":"38-45","gender":"Others","count":1},
         {"age":"45+","gender":"Male","count":20},{"age":"45+","gender":"Female","count":25},{"age":"45+","gender":"Others","count":10}]},
       "mark":{"type":"bar"},
       "encoding":{
        "x":{"field":"age","type":"nominal","axis":{"offset":-57,"labelAngle":0,"labelPadding":23},"scale":{"type":"band","domain":["18-22","23-27","28-32","33-37","38-45","45+"],"range":[73,755],"paddingInner":0.237,"paddingOuter":0.118}},
        "xOffset":{"field":"gender","type":"nominal","scale":{"domain":["Male","Female","Others"],"paddingInner":0.16,"paddingOuter":0}},
        "y":{"field":"count","type":"quantitative","stack":null,"axis":{"offset":-73,"values":[0,10,20,30,40,50,60],"labelPadding":21,"labelOffset":-2},"scale":{"domain":[0,60],"range":[466,121],"nice":false}},
        "color":{"field":"gender","type":"nominal","scale":{"domain":["Male","Female","Others"],"range":["#954d91","#b56d77","#d9ce86"]},"legend":{"legendX":23,"legendY":77,"symbolSize":170}}}
      }
     ]}
    ]}
   ]}
  ]}
 ]}
]
}
